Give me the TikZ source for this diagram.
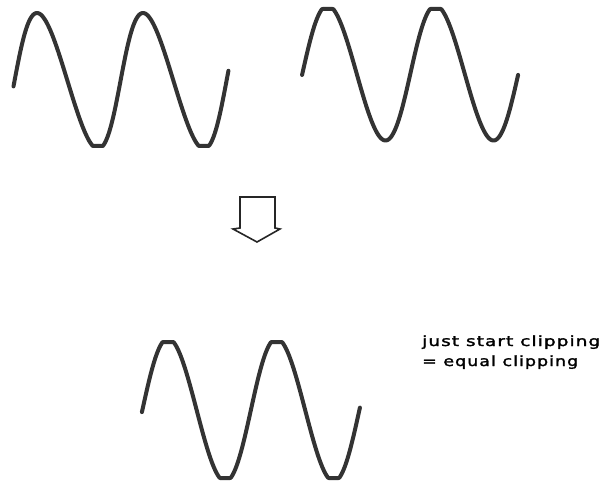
\documentclass[tikz,border=0pt]{standalone}
\usepackage{graphicx}
\usepackage{fontspec}
\setmainfont{DejaVu Sans}
\newfontfamily\labelfont[LetterSpace=6,FakeBold=1.6]{DejaVu Sans}
\begin{document}
\begin{tikzpicture}[x=1pt,y=-1pt,
  wave/.style={line width=4pt,draw=black!80,line cap=round,line join=round},
  arrowshape/.style={line width=1.6pt,draw=black!85,line join=miter},
  label/.style={anchor=base west,inner sep=0pt,font=\labelfont\fontsize{14}{19}\selectfont}]
\useasboundingbox (0,0) rectangle (604,486);
% top-left wave (bottom clipped)
\draw[wave] plot[domain=-1.65:11.15,samples=240,variable=\t]
  ({41+16.87*\t-4*cos(\t r)},{min(81-68*cos(\t r),146)});
% top-right wave (top clipped)
\draw[wave] plot[domain=-1.6:10.97,samples=240,variable=\t]
  ({329.5+17.19*\t-2*cos(\t r)},{max(73-67.5*cos(\t r),9)});
% arrow
\draw[arrowshape] (240,228) -- (240,197) -- (275,197) -- (275,228) -- (280,229) -- (257,242) -- (233,229) -- cycle;
% bottom wave (equal clipping)
\draw[wave] plot[domain=-1.6:11.03,samples=240,variable=\t]
  ({169.5+17.27*\t-1.5*cos(\t r)},{min(max(410-71.5*cos(\t r),342),478)});
% label
\node[label] (l1) at (422,346) {\resizebox{178pt}{\height}{just start clipping}};
\node[label] (l2) at (422,366) {\resizebox{156pt}{\height}{= equal clipping}};
\end{tikzpicture}
\end{document}
